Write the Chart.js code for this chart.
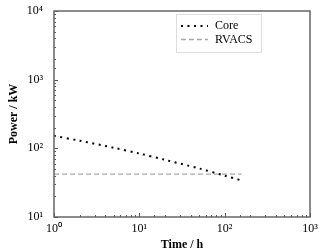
<!DOCTYPE html>
<html>
<head>
<meta charset="utf-8">
<script src="https://cdn.jsdelivr.net/npm/chart.js@4.4.1/dist/chart.umd.min.js"></script>
<style>
  html, body { margin: 0; padding: 0; background: #fff; }
  #wrap { width: 333px; height: 252px; }
</style>
</head>
<body>
<div id="wrap"><canvas id="chart_power"></canvas></div>
<script>
// values
var coreTime = [1, 2, 5, 10, 20, 50, 100, 158];
var corePower = [152, 129, 102, 84, 68, 51, 40, 34];
var rvacsTime = [1, 158];
var rvacsPower = [42, 42];
var xTickPowers = [0, 1, 2, 3];
var yTickPowers = [1, 2, 3, 4];

var SUP = ['\u2070', '\u00b9', '\u00b2', '\u00b3', '\u2074'];
var serif = "'Liberation Serif', 'Times New Roman', serif";

function pairs(xs, ys) {
  return xs.map(function (x, i) { return { x: x, y: ys[i] }; });
}

function decadeLabel(powers) {
  return function (value) {
    var p = Math.round(Math.log10(value));
    if (Math.abs(Math.log10(value) - p) < 1e-6 && powers.indexOf(p) >= 0) {
      return '10' + SUP[p];
    }
    return '';
  };
}

// frame, inward ticks and legend box drawn over the chart area
var framePlugin = {
  id: 'framePlugin',
  afterDraw: function (chart) {
    var ctx = chart.ctx;
    var a = chart.chartArea;
    ctx.save();
    ctx.strokeStyle = '#555';
    ctx.lineWidth = 1;
    ['x', 'y'].forEach(function (id) {
      var s = chart.scales[id];
      s.ticks.forEach(function (t) {
        var l = Math.log10(t.value);
        var major = Math.abs(l - Math.round(l)) < 1e-6;
        var len = major ? 4 : 2;
        var p = Math.round(s.getPixelForValue(t.value)) + 0.5;
        ctx.beginPath();
        if (id === 'x') {
          ctx.moveTo(p, a.bottom); ctx.lineTo(p, a.bottom - len);
        } else {
          ctx.moveTo(a.left, p); ctx.lineTo(a.left + len, p);
        }
        ctx.stroke();
      });
    });
    ctx.lineWidth = 1.5;
    ctx.strokeStyle = '#666';
    ctx.strokeRect(a.left, a.top, a.right - a.left, a.bottom - a.top);

    // legend
    var lx = a.left + 122, ly = a.top + 3, lw = 85, lh = 38;
    ctx.lineWidth = 1;
    ctx.strokeStyle = '#ddd';
    ctx.fillStyle = '#fff';
    ctx.fillRect(lx, ly, lw, lh);
    ctx.strokeRect(lx + 0.5, ly + 0.5, lw, lh);
    ctx.font = "12px " + serif;
    ctx.textBaseline = 'middle';
    chart.data.datasets.forEach(function (ds, i) {
      var yy = ly + 12 + i * 13.5;
      ctx.save();
      ctx.strokeStyle = ds.borderColor;
      ctx.lineWidth = ds.borderWidth;
      ctx.setLineDash(ds.borderDash || []);
      ctx.beginPath();
      ctx.moveTo(lx + 5, yy);
      ctx.lineTo(lx + 32, yy);
      ctx.stroke();
      ctx.restore();
      ctx.fillStyle = '#000';
      ctx.fillText(ds.label, lx + 39, yy);
    });
    ctx.restore();
  }
};

var chart_power = new Chart(document.getElementById('chart_power'), {
  type: 'line',
  data: {
    datasets: [
      {
        label: 'Core',
        data: pairs(coreTime, corePower),
        borderColor: '#000',
        borderWidth: 2,
        borderDash: [2, 4.5],
        pointRadius: 0,
        fill: false,
        tension: 0.3
      },
      {
        label: 'RVACS',
        data: pairs(rvacsTime, rvacsPower),
        borderColor: '#a8a8a8',
        borderWidth: 1.3,
        borderDash: [5, 3],
        pointRadius: 0,
        fill: false
      }
    ]
  },
  options: {
    animation: false,
    responsive: true,
    maintainAspectRatio: false,
    layout: { padding: { top: 11, right: 23, left: 0, bottom: 0 } },
    plugins: {
      legend: { display: false },
      tooltip: { enabled: false }
    },
    scales: {
      x: {
        type: 'logarithmic',
        min: 1,
        max: 1000,
        border: { display: false },
        grid: { display: false },
        ticks: {
          autoSkip: false,
          maxRotation: 0,
          padding: -3,
          color: '#000',
          font: { family: serif, size: 12 },
          callback: decadeLabel(xTickPowers)
        },
        title: {
          display: true,
          text: 'Time / h',
          color: '#000',
          padding: { top: 0, bottom: 0 },
          font: { family: serif, size: 12, weight: 'bold' }
        },
        afterFit: function (scale) { scale.height = 35; }
      },
      y: {
        type: 'logarithmic',
        min: 10,
        max: 10000,
        border: { display: false },
        grid: { display: false },
        ticks: {
          autoSkip: false,
          padding: 3,
          color: '#000',
          font: { family: serif, size: 12 },
          callback: decadeLabel(yTickPowers)
        },
        title: {
          display: true,
          text: 'Power / kW',
          color: '#000',
          padding: { top: 7, bottom: 0 },
          font: { family: serif, size: 12, weight: 'bold' }
        },
        afterFit: function (scale) { scale.width = 54; }
      }
    }
  },
  plugins: [framePlugin]
});
</script>
</body>
</html>
